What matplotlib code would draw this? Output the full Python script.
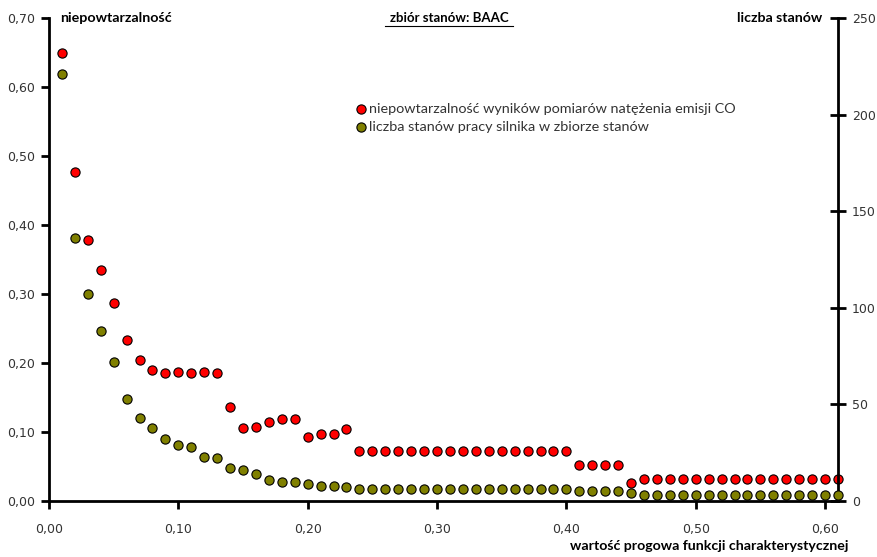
import numpy as np
import matplotlib
matplotlib.use("Agg")
import matplotlib.pyplot as plt
from matplotlib.ticker import FuncFormatter, MultipleLocator

# wartość progowa funkcji charakterystycznej
threshold = [round(0.01 * i, 2) for i in range(1, 62)]

# niepowtarzalność wyników pomiarów natężenia emisji CO (left axis)
uniqueness = [0.649, 0.477, 0.378, 0.335, 0.287, 0.233, 0.204, 0.190, 0.185, 0.187,
              0.185, 0.187, 0.185, 0.136, 0.106, 0.107, 0.114, 0.119, 0.119, 0.093,
              0.097, 0.097, 0.104] + [0.0725] * 17 + [0.052] * 4 + [0.026] + [0.032] * 16

# liczba stanów pracy silnika w zbiorze stanów (right axis)
states = [221, 136, 107, 88, 72, 53, 43, 38, 32, 29,
          28, 23, 22, 17, 16, 14, 11, 10, 10, 9,
          8, 8, 7] + [6] * 17 + [5] * 4 + [4] + [3] * 16

label_red = "niepowtarzalność wyników pomiarów natężenia emisji CO"
label_olive = "liczba stanów pracy silnika w zbiorze stanów"

txt_font = ["Lato", "DejaVu Sans"]
tick_color = "#333333"


def comma(v, pos):
    return f"{v:.2f}".replace(".", ",")


def main():
    fig = plt.figure(figsize=(8.77, 5.57), dpi=100)
    ax = fig.add_axes([49 / 877, 1 - 501 / 557, (838 - 49) / 877, (501 - 18) / 557])
    ax2 = ax.twinx()

    ax.scatter(threshold, uniqueness, s=44, marker="o", color="#ff0000",
               edgecolor="black", linewidth=0.8, zorder=3, label=label_red, clip_on=False)
    ax2.scatter(threshold, states, s=44, marker="o", color="#808000",
                edgecolor="black", linewidth=0.8, zorder=3, label=label_olive, clip_on=False)

    ax.set_xlim(0, 0.61)
    ax.set_ylim(0, 0.70)
    ax2.set_ylim(0, 250)

    ax.xaxis.set_major_locator(MultipleLocator(0.1))
    ax.yaxis.set_major_locator(MultipleLocator(0.1))
    ax2.yaxis.set_major_locator(MultipleLocator(50))
    ax.xaxis.set_major_formatter(FuncFormatter(comma))
    ax.yaxis.set_major_formatter(FuncFormatter(comma))

    for a in (ax, ax2):
        for side in ("top", "left", "bottom"):
            a.spines[side].set_visible(False)
    ax.spines["right"].set_visible(False)
    ax2.spines["right"].set_color("black")
    ax2.spines["right"].set_linewidth(2)

    # left and bottom axis lines, drawn at figure level on the axes edges
    pos = ax.get_position()
    fig.add_artist(plt.Line2D([pos.x0, pos.x0], [pos.y0, pos.y1], color="black", lw=2,
                              solid_capstyle="projecting", zorder=10))
    fig.add_artist(plt.Line2D([pos.x0, pos.x1], [pos.y0, pos.y0], color="black", lw=2,
                              solid_capstyle="projecting", zorder=10))

    ax.tick_params(axis="x", direction="out", length=6, width=2, labelsize=9,
                   labelcolor=tick_color, pad=10)
    ax.tick_params(axis="y", direction="out", length=6, width=2, labelsize=9,
                   labelcolor=tick_color, pad=4)
    ax2.tick_params(axis="y", direction="inout", length=12, width=2, labelsize=9,
                    labelcolor=tick_color, pad=4)

    fig.text(0.068, 0.967, "niepowtarzalność", fontsize=10.3, fontweight="bold",
             family=txt_font, va="center", ha="left")
    fig.text(0.512, 0.967, "zbiór stanów: BAAC", fontsize=9.5, fontweight="bold",
             family=txt_font, va="center", ha="center")
    fig.add_artist(plt.Line2D([0.439, 0.585], [0.954, 0.954], color="black", lw=0.8))
    fig.text(0.938, 0.967, "liczba stanów", fontsize=10.2, fontweight="bold",
             family=txt_font, va="center", ha="right")
    fig.text(0.967, 0.019, "wartość progowa funkcji charakterystycznej", fontsize=10.2,
             fontweight="bold", family=txt_font, va="center", ha="right")

    h1, l1 = ax.get_legend_handles_labels()
    h2, l2 = ax2.get_legend_handles_labels()
    ax2.legend(h1 + h2, l1 + l2, loc="upper left", bbox_to_anchor=(0.398, 0.828),
               bbox_transform=fig.transFigure, frameon=False, handletextpad=0.15,
               handlelength=0.7, labelspacing=0.4, borderpad=0,
               prop={"family": txt_font, "size": 10.4}, labelcolor="#333333")

    fig.savefig("out.png", dpi=100)


if __name__ == "__main__":
    main()
